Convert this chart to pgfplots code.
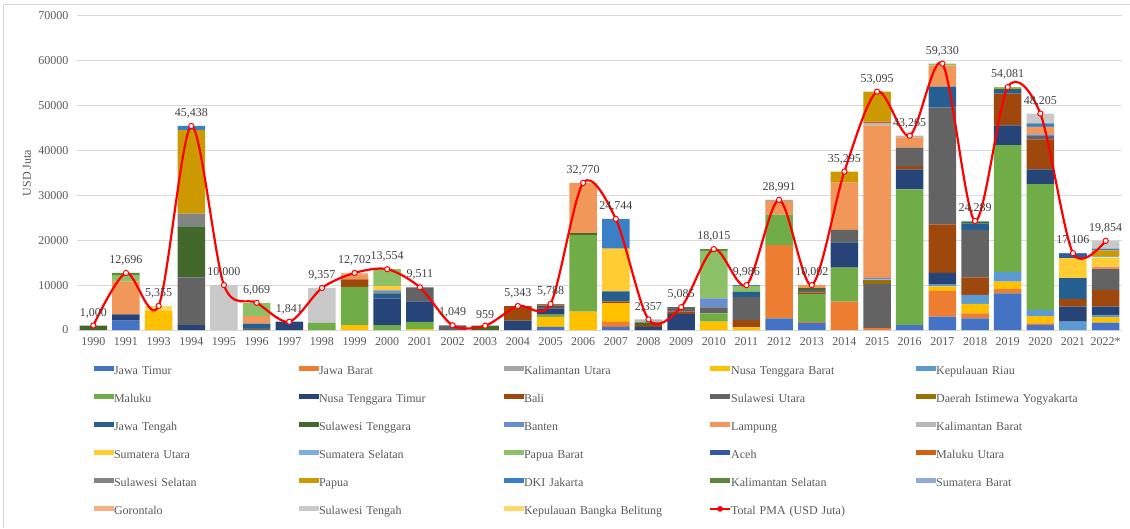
\documentclass[border=0pt]{standalone}
\usepackage{pgfplots}
\pgfplotsset{compat=1.18}
\usepackage{pgfplotstable}
\usepackage{fontspec}
\setmainfont{Liberation Serif}

\definecolor{cJT}{HTML}{4472C4}
\definecolor{cJB}{HTML}{ED7D31}
\definecolor{cKU}{HTML}{A5A5A5}
\definecolor{cNTB}{HTML}{FFC000}
\definecolor{cKR}{HTML}{5B9BD5}
\definecolor{cMAL}{HTML}{70AD47}
\definecolor{cNTT}{HTML}{264478}
\definecolor{cBAL}{HTML}{9E480E}
\definecolor{cSUT}{HTML}{636363}
\definecolor{cDIY}{HTML}{997300}
\definecolor{cJTG}{HTML}{255E91}
\definecolor{cSTG}{HTML}{43682B}
\definecolor{cBTN}{HTML}{698ED0}
\definecolor{cLPG}{HTML}{F1975A}
\definecolor{cKBR}{HTML}{B7B7B7}
\definecolor{cSMU}{HTML}{FFCD33}
\definecolor{cSMS}{HTML}{7CAFDD}
\definecolor{cPBR}{HTML}{8CC168}
\definecolor{cACH}{HTML}{335AA1}
\definecolor{cMUT}{HTML}{D26012}
\definecolor{cSSL}{HTML}{848484}
\definecolor{cPAP}{HTML}{CC9A00}
\definecolor{cDKI}{HTML}{3A80C6}
\definecolor{cKSL}{HTML}{5A8A39}
\definecolor{cSBR}{HTML}{8FAADC}
\definecolor{cGOR}{HTML}{F4B183}
\definecolor{cSTH}{HTML}{C9C9C9}
\definecolor{cBAB}{HTML}{FFD966}
\definecolor{totc}{HTML}{FF0000}
\definecolor{gridc}{HTML}{D9D9D9}
\definecolor{tickc}{HTML}{595959}
\definecolor{labc}{HTML}{404040}

% columns: x, 28 provinces (stack order), TOT
\pgfplotstableread{
x JT JB KU NTB KR MAL NTT BAL SUT DIY JTG STG BTN LPG KBR SMU SMS PBR ACH MUT SSL PAP DKI KSL SBR GOR STH BAB TOT
0  0 0 0 0 0 0 0   0 0 0 0 1000 0 0   0 0 0 0 0 0 0   0 0 0 0 0 0 0   1000
1  2100 0 0 0 0 0 1400   0 0 0 0 0 0 7300   0 0 0 1300 0 0 0   0 0 596 0 0 0 0   12696
2  0 0 0 4300 0 0 0   0 0 0 0 0 0 0   0 0 0 0 0 0 0   0 0 0 0 0 0 1055   5355
3  0 0 0 0 0 0 1100   0 10600 0 0 11400 0 0   0 0 0 0 0 0 2800   18640 898 0 0 0 0 0   45438
4  0 0 0 0 0 0 0   0 0 0 0 0 0 0   0 0 0 0 0 0 0   0 0 0 0 0 10000 0   10000
5  0 0 0 0 0 0 0   0 400 0 1000 0 0 1700   0 0 0 2969 0 0 0   0 0 0 0 0 0 0   6069
6  0 0 0 0 0 0 1841   0 0 0 0 0 0 0   0 0 0 0 0 0 0   0 0 0 0 0 0 0   1841
7  0 0 0 0 0 1600 0   0 0 0 0 0 0 0   0 0 0 0 0 0 0   0 0 0 0 0 7757 0   9357
8  0 0 0 1100 0 8500 0   1700 0 0 0 0 0 900   0 0 0 0 0 0 0   0 0 0 0 502 0 0   12702
9  0 0 0 0 0 1100 5900   0 0 0 1100 200 500 0   0 1000 0 3754 0 0 0   0 0 0 0 0 0 0   13554
10 0 0 0 200 0 1600 4600   0 3111 0 0 0 0 0   0 0 0 0 0 0 0   0 0 0 0 0 0 0   9511
11 0 0 0 0 0 0 0   0 1049 0 0 0 0 0   0 0 0 0 0 0 0   0 0 0 0 0 0 0   1049
12 0 0 0 0 0 0 0   0 0 0 0 959 0 0   0 0 0 0 0 0 0   0 0 0 0 0 0 0   959
13 0 0 0 0 0 0 2100   3243 0 0 0 0 0 0   0 0 0 0 0 0 0   0 0 0 0 0 0 0   5343
14 700 0 0 2200 0 500 1400   300 0 0 400 0 0 0   0 0 0 0 0 288 0   0 0 0 0 0 0 0   5788
15 0 0 0 4100 0 17100 0   0 0 0 0 400 0 11170   0 0 0 0 0 0 0   0 0 0 0 0 0 0   32770
16 700 1100 0 4200 0 0 0   400 0 0 2200 0 0 0   0 9500 0 0 0 0 0   0 6644 0 0 0 0 0   24744
17 0 0 0 0 0 0 700   400 0 0 0 600 0 0   657 0 0 0 0 0 0   0 0 0 0 0 0 0   2357
18 0 0 0 0 0 0 3600   500 985 0 0 0 0 0   0 0 0 0 0 0 0   0 0 0 0 0 0 0   5085
19 0 0 0 1850 0 1850 0   0 1350 0 0 0 2000 0   0 0 0 10600 0 0 0   0 0 365 0 0 0 0   18015
20 0 0 0 600 0 0 0   1600 5200 0 1100 0 0 0   0 0 0 1300 0 0 0   0 186 0 0 0 0 0   9986
21 2600 16300 0 0 0 6800 0   0 0 0 0 0 0 3100   0 0 0 0 0 0 0   0 191 0 0 0 0 0   28991
22 1600 200 0 0 0 6200 0   300 600 0 0 400 0 702   0 0 0 0 0 0 0   0 0 0 0 0 0 0   10002
23 0 6300 0 0 0 7600 5600   0 2800 0 0 0 0 10500   0 0 0 0 0 0 0   2495 0 0 0 0 0 0   35295
24 0 400 0 0 0 0 0   0 9900 900 0 0 400 33900   600 0 0 0 0 300 0   6695 0 0 0 0 0 0   53095
25 1100 0 0 0 0 30200 4450   750 4100 0 0 0 0 2300   365 0 0 0 0 0 0   0 0 0 0 0 0 0   43265
26 3000 5700 0 1000 400 0 2600   10800 26000 0 4700 0 0 4750   0 0 0 380 0 0 0   0 0 0 0 0 0 0   59330
27 2600 1100 0 2100 2000 0 0   3900 10550 0 1500 400 0 0   0 0 0 139 0 0 0   0 0 0 0 0 0 0   24289
28 8150 950 0 1650 2200 28200 4450   7050 0 0 750 300 0 0   0 0 0 381 0 0 0   0 0 0 0 0 0 0   54081
29 1100 400 0 1600 1350 28050 3250   6700 750 0 0 0 350 1500   0 0 0 0 0 0 350   0 600 0 0 0 2205 0   48205
30 0 0 0 0 1850 0 3350   1650 0 0 4700 0 0 0   0 4450 0 0 950 0 0   0 156 0 0 0 0 0   17106
31 1650 0 0 1200 500 0 1850   3700 4700 0 0 0 0 500   0 2100 300 0 0 0 0   1250 350 0 0 0 1754 0   19854
}\data

\pgfplotsset{
  bs/.style={fill=#1, draw=none,
    legend image code/.code={\fill[fill=#1] (0pt,0.8pt) rectangle (20pt,5.8pt);}},
}

\begin{document}
\begin{tikzpicture}
\useasboundingbox (0,0) rectangle (1130pt,528pt);
\draw[gridc, line width=0.8pt] (3pt,0pt) -- (3pt,524pt) -- (1130pt,524pt);
\begin{axis}[
  at={(77pt,198pt)}, anchor=south west,
  scale only axis, width=1045pt, height=314.3pt,
  ybar stacked, bar width=27.5pt,
  xmin=-0.5, xmax=31.5, ymin=0, ymax=70000,
  enlargelimits=false,
  xtick={0,...,31},
  xticklabels={1990,1991,1993,1994,1995,1996,1997,1998,1999,2000,2001,2002,2003,2004,2005,2006,2007,2008,2009,2010,2011,2012,2013,2014,2015,2016,2017,2018,2019,2020,2021,2022*},
  ytick={0,10000,...,70000},
  scaled y ticks=false,
  /pgf/number format/1000 sep={},
  /pgf/number format/assume math mode=true,
  major tick length=0pt,
  axis line style={draw=none},
  ymajorgrids, grid style={draw=gridc, line width=0.8pt},
  tick label style={font=\fontsize{12}{14}\selectfont, text=tickc},
  xticklabel style={yshift=-4pt},
  yticklabel style={xshift=-5pt},
  ylabel={USD Juta},
  every axis y label/.style={at={(axis description cs:-0.0478,0.5)}, rotate=90, anchor=center, font=\fontsize{12}{14}\selectfont, text=tickc},
  legend columns=5,
  legend cell align=left,
  legend style={at={(axis description cs:0.0163,-0.114)}, anchor=north west,
    draw=none, fill=none, inner sep=0pt, outer sep=0pt, row sep=16.5pt,
    font=\fontsize{12}{14}\selectfont, text=tickc,
    nodes={inner sep=0pt, text width=183pt, text height=8.5pt, text depth=3pt, align=left},
    /tikz/every even column/.append style={column sep=2pt}},
]
\addplot[bs=cJT]  table[x=x,y=JT]{\data};  \addlegendentry{Jawa Timur}
\addplot[bs=cJB]  table[x=x,y=JB]{\data};  \addlegendentry{Jawa Barat}
\addplot[bs=cKU]  table[x=x,y=KU]{\data};  \addlegendentry{Kalimantan Utara}
\addplot[bs=cNTB] table[x=x,y=NTB]{\data}; \addlegendentry{Nusa Tenggara Barat}
\addplot[bs=cKR]  table[x=x,y=KR]{\data};  \addlegendentry{Kepulauan Riau}
\addplot[bs=cMAL] table[x=x,y=MAL]{\data}; \addlegendentry{Maluku}
\addplot[bs=cNTT] table[x=x,y=NTT]{\data}; \addlegendentry{Nusa Tenggara Timur}
\addplot[bs=cBAL] table[x=x,y=BAL]{\data}; \addlegendentry{Bali}
\addplot[bs=cSUT] table[x=x,y=SUT]{\data}; \addlegendentry{Sulawesi Utara}
\addplot[bs=cDIY] table[x=x,y=DIY]{\data}; \addlegendentry{Daerah Istimewa Yogyakarta}
\addplot[bs=cJTG] table[x=x,y=JTG]{\data}; \addlegendentry{Jawa Tengah}
\addplot[bs=cSTG] table[x=x,y=STG]{\data}; \addlegendentry{Sulawesi Tenggara}
\addplot[bs=cBTN] table[x=x,y=BTN]{\data}; \addlegendentry{Banten}
\addplot[bs=cLPG] table[x=x,y=LPG]{\data}; \addlegendentry{Lampung}
\addplot[bs=cKBR] table[x=x,y=KBR]{\data}; \addlegendentry{Kalimantan Barat}
\addplot[bs=cSMU] table[x=x,y=SMU]{\data}; \addlegendentry{Sumatera Utara}
\addplot[bs=cSMS] table[x=x,y=SMS]{\data}; \addlegendentry{Sumatera Selatan}
\addplot[bs=cPBR] table[x=x,y=PBR]{\data}; \addlegendentry{Papua Barat}
\addplot[bs=cACH] table[x=x,y=ACH]{\data}; \addlegendentry{Aceh}
\addplot[bs=cMUT] table[x=x,y=MUT]{\data}; \addlegendentry{Maluku Utara}
\addplot[bs=cSSL] table[x=x,y=SSL]{\data}; \addlegendentry{Sulawesi Selatan}
\addplot[bs=cPAP] table[x=x,y=PAP]{\data}; \addlegendentry{Papua}
\addplot[bs=cDKI] table[x=x,y=DKI]{\data}; \addlegendentry{DKI Jakarta}
\addplot[bs=cKSL] table[x=x,y=KSL]{\data}; \addlegendentry{Kalimantan Selatan}
\addplot[bs=cSBR] table[x=x,y=SBR]{\data}; \addlegendentry{Sumatera Barat}
\addplot[bs=cGOR] table[x=x,y=GOR]{\data}; \addlegendentry{Gorontalo}
\addplot[bs=cSTH] table[x=x,y=STH]{\data}; \addlegendentry{Sulawesi Tengah}
\addplot[bs=cBAB] table[x=x,y=BAB]{\data}; \addlegendentry{Kepulauan Bangka Belitung}
\addlegendimage{legend image code/.code={\draw[totc, line width=2.2pt] (0pt,3.3pt) -- (20pt,3.3pt); \draw[totc, fill=totc, line width=1pt] (10pt,3.3pt) circle (2.3pt);}}
\addlegendentry{Total PMA (USD Juta)}
\end{axis}
\begin{axis}[
  at={(77pt,198pt)}, anchor=south west,
  scale only axis, width=1045pt, height=314.3pt,
  xmin=-0.5, xmax=31.5, ymin=0, ymax=70000,
  enlargelimits=false, hide axis, clip=false,
]
\addplot[color=totc, line width=2.2pt, smooth, mark=*, mark size=2.6pt,
  mark options={fill=white, draw=totc, line width=1pt},
  nodes near coords={\pgfmathprintnumber[fixed,precision=0,1000 sep={,},assume math mode=true]{\pgfplotspointmeta}},
  every node near coord/.append style={font=\fontsize{12}{14}\selectfont, text=labc, inner sep=2pt, yshift=5pt, anchor=south},
] table[x=x,y=TOT]{\data};
\end{axis}
\end{tikzpicture}
\end{document}
